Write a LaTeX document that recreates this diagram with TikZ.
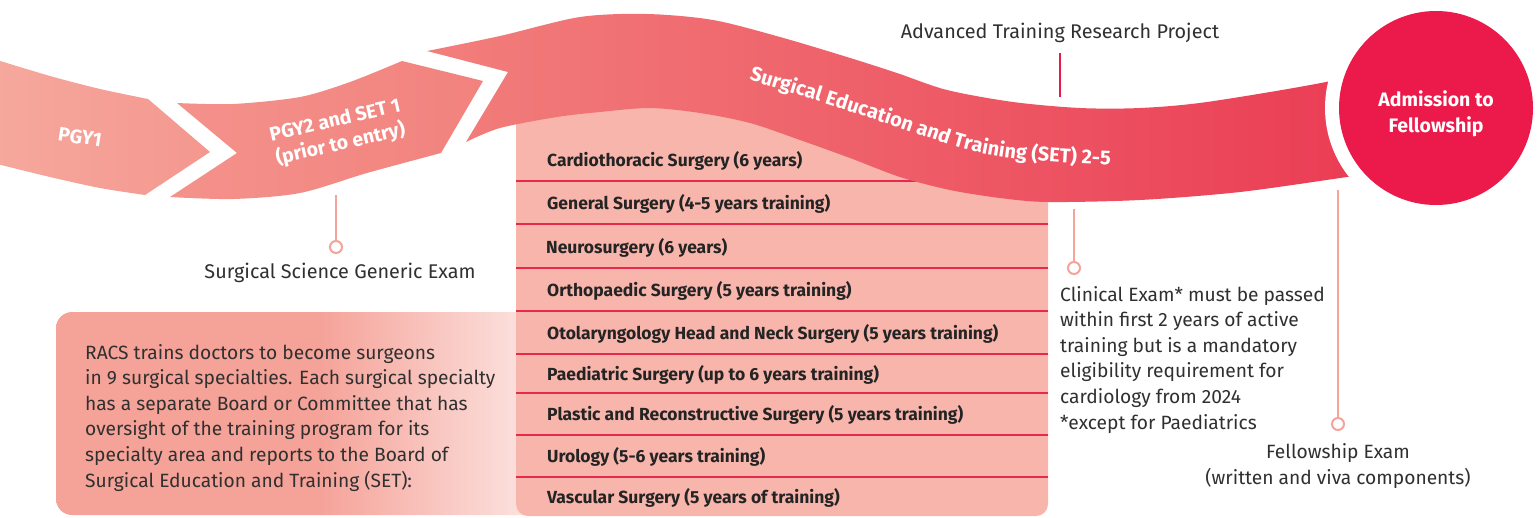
\documentclass[tikz,border=0pt]{standalone}
\usepackage{fontspec}
\setmainfont{Fira Sans}
\usetikzlibrary{decorations.text}
\definecolor{bA}{HTML}{F6A89D}
\definecolor{bB}{HTML}{F4978F}
\definecolor{bC}{HTML}{F4928B}
\definecolor{bD}{HTML}{F2827E}
\definecolor{bE}{HTML}{F27F7C}
\definecolor{bF}{HTML}{EA3A53}
\definecolor{crimson}{HTML}{EC1A4A}
\definecolor{tablefill}{HTML}{F8B5AB}
\definecolor{sepred}{HTML}{E8294F}
\definecolor{salmon}{HTML}{F4A49B}
\definecolor{lineRed}{HTML}{E81A4A}
\definecolor{notetext}{HTML}{303030}
\definecolor{rowtext}{HTML}{242424}
\definecolor{boxA}{HTML}{F5A398}
\definecolor{boxB}{HTML}{F5A298}
\definecolor{boxC}{HTML}{FCE6E3}
\pgfdeclarehorizontalshading{leftboxshade}{100bp}{color(0bp)=(boxA); color(25bp)=(boxA); color(52bp)=(boxB); color(75bp)=(boxC); color(100bp)=(boxC)}
\newcommand{\bandtextfont}{\bfseries\fontsize{20}{20}\selectfont\color{white}}
\begin{document}
\begin{tikzpicture}[x=1pt,y=-1pt,
  bandlbl/.style={font=\bfseries\fontsize{19.5}{24}\selectfont, text=white, inner sep=0pt, align=center},
  rowtxt/.style={font=\bfseries\fontsize{17.5}{20}\selectfont, text=rowtext, anchor=base west, inner sep=0pt},
  note/.style={font=\fontsize{19.2}{25.6}\selectfont, text=notetext, inner sep=0pt},
  conn/.style={draw=salmon, line width=2pt},
  ring/.style={circle, draw=salmon, line width=2pt, fill=white, minimum size=12pt, inner sep=0pt},
  sepline/.style={draw=sepred, line width=1.2pt}]

\useasboundingbox (0,0) rectangle (1539,517);
\fill[white] (0,0) rectangle (1539,517);

% left explanatory box
\shade[shading=leftboxshade, rounded corners=16pt] (56,312) rectangle (540,515);

% specialties table
\fill[tablefill, rounded corners=12pt] (516,60) -- (1048,150) -- (1048,516) -- (516,516) -- cycle;
\foreach \y in {181,224,268,311,354,393,435,477}
  \draw[sepline] (516,\y) -- (1048,\y);

% band 1 : PGY1
\shade[left color=bA, right color=bB]
  plot[smooth] coordinates {(-3,60) (50,76) (100,89) (148,99)}
  -- (210,152) -- (145,195)
  -- plot[smooth] coordinates {(145,195) (100,188) (50,177) (-3,164)} -- cycle;

% band 2 : PGY2 and SET 1
\shade[left color=bC, right color=bD]
  plot[smooth] coordinates {(177,103) (233,104) (300,97) (350,82) (402,61)}
  -- (483,81) -- (441,153)
  -- plot[smooth] coordinates {(441,153) (367,173) (300,193) (233,199) (170,197)}
  -- (237,153) -- cycle;

% band 3 : SET 2-5
\shade[left color=bE, right color=bF]
  plot[smooth] coordinates {(427,51) (500,36) (580,17) (647,14) (713,20) (780,37) (847,57) (897,73) (947,90) (1013,102) (1080,108) (1140,108) (1207,102) (1326,82) (1395,64)}
  -- (1395,170)
  -- plot[smooth] coordinates {(1395,170) (1347,177) (1240,192) (1140,200) (1048,202) (1000,198) (950,190) (900,177) (850,158) (800,140) (750,123) (700,113) (650,108) (600,112) (557,117) (500,128) (466,142)}
  -- (508,72) -- cycle;

% admission circle
\fill[white] (1436,108) circle[radius=111pt];
\node[circle, fill=crimson, minimum size=194pt, inner sep=0pt] (adm) at (1436,108) {};
\node[font=\bfseries\fontsize{19.5}{26}\selectfont, text=white, align=center, inner sep=0pt] (admtxt) at (1436,114) {Admission to\\Fellowship};

% band labels
\node[bandlbl, rotate=-9] (pgy1) at (80,137) {PGY1};
\node[bandlbl, rotate=13] (pgy2) at (338,133) {PGY2 and SET 1\\(prior to entry)};
\path[decorate, decoration={text along path, text format delimiters={|}{|},
  text={|\bandtextfont|Surgical Education and Training (SET) 2-5}, text align=left}]
  (749,80) .. controls (830,104) and (900,128) .. (950,145) .. controls (990,158) and (1040,164) .. (1170,167);

% table rows
\node[rowtxt] (row1) at (547,166) {Cardiothoracic Surgery (6 years)};
\node[rowtxt] (row2) at (547,209) {General Surgery (4-5 years training)};
\node[rowtxt] (row3) at (546,253) {Neurosurgery (6 years)};
\node[rowtxt] (row4) at (547,296) {Orthopaedic Surgery (5 years training)};
\node[rowtxt] (row5) at (547,339) {Otolaryngology Head and Neck Surgery (5 years training)};
\node[rowtxt] (row6) at (547,380) {Paediatric Surgery (up to 6 years training)};
\node[rowtxt] (row7) at (547,420) {Plastic and Reconstructive Surgery (5 years training)};
\node[rowtxt] (row8) at (547,462) {Urology (5-6 years training)};
\node[rowtxt] (row9) at (547,503) {Vascular Surgery (5 years of training)};

% left box text
\node[note, anchor=north west, align=left] (racs) at (85,344) {RACS trains doctors to become surgeons\\in 9 surgical specialties. Each surgical specialty\\has a separate Board or Committee that has\\oversight of the training program for its\\specialty area and reports to the Board of\\Surgical Education and Training (SET):};

% Advanced Training Research Project
\node[note, font=\fontsize{19.8}{25.6}\selectfont] (adv) at (1060,33) {Advanced Training Research Project};
\coordinate (advA) at (1060,53);
\coordinate (advB) at (1060,97);
\draw[draw=lineRed, line width=2.5pt] (advA) -- (advB);

% Surgical Science Generic Exam
\coordinate (ssgeTop) at (336,195);
\node[ring] (ssgeRing) at (336,247) {};
\draw[conn] (ssgeTop) -- (ssgeRing);
\node[note, font=\fontsize{19.8}{25.6}\selectfont] (ssge) at (340,273) {Surgical Science Generic Exam};

% Clinical exam
\coordinate (clinTop) at (1074,209);
\node[ring] (clinRing) at (1074,268) {};
\draw[conn] (clinTop) -- (clinRing);
\node[note, anchor=north west, align=left] (clin) at (1060,286) {Clinical Exam* must be passed\\within first 2 years of active\\training but is a mandatory\\eligibility requirement for\\cardiology from 2024\\*except for Paediatrics};

% Fellowship exam
\coordinate (felTop) at (1338,190);
\node[ring] (felRing) at (1338,424) {};
\draw[conn] (felTop) -- (felRing);
\node[note, align=center] (fel) at (1338,466) {Fellowship Exam\\(written and viva components)};
\end{tikzpicture}
\end{document}
